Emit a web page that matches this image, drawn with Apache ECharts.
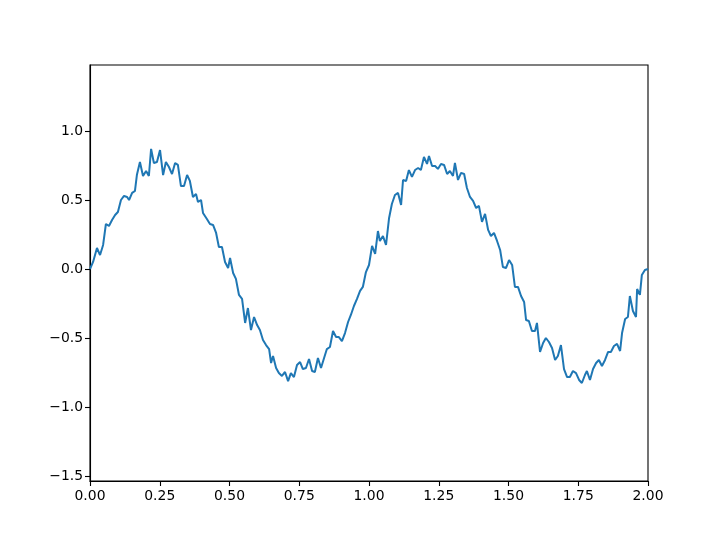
<!DOCTYPE html>
<html>
<head>
<meta charset="utf-8">
<script src="https://cdn.jsdelivr.net/npm/echarts@6/dist/echarts.min.js"></script>
<style>html,body{margin:0;padding:0;background:#fff}#c{width:720px;height:540px}</style>
</head>
<body>
<div id="c"></div>
<script>
const xValues = [0,0.011,0.025,0.036,0.047,0.057,0.068,0.079,0.090,0.100,0.111,0.122,0.133,0.140,0.151,0.161,0.168,0.179,0.190,0.201,0.211,0.219,0.229,0.240,0.251,0.262,0.272,0.283,0.294,0.305,0.315,0.326,0.337,0.348,0.358,0.369,0.380,0.387,0.398,0.405,0.419,0.430,0.441,0.452,0.462,0.473,0.484,0.495,0.502,0.513,0.523,0.534,0.545,0.556,0.566,0.577,0.588,0.599,0.609,0.620,0.631,0.642,0.649,0.656,0.667,0.677,0.688,0.699,0.710,0.720,0.731,0.742,0.753,0.763,0.774,0.785,0.796,0.806,0.817,0.828,0.839,0.849,0.860,0.871,0.882,0.892,0.903,0.914,0.925,0.935,0.946,0.957,0.968,0.978,0.989,1.000,1.011,1.022,1.032,1.039,1.050,1.061,1.072,1.082,1.093,1.104,1.115,1.122,1.133,1.143,1.154,1.165,1.176,1.186,1.197,1.208,1.215,1.226,1.237,1.247,1.258,1.269,1.280,1.290,1.301,1.308,1.319,1.330,1.341,1.351,1.362,1.373,1.384,1.394,1.405,1.416,1.427,1.437,1.448,1.459,1.470,1.480,1.491,1.502,1.513,1.523,1.534,1.545,1.556,1.563,1.573,1.584,1.595,1.602,1.613,1.624,1.634,1.645,1.656,1.667,1.677,1.688,1.699,1.710,1.720,1.731,1.742,1.753,1.763,1.774,1.781,1.792,1.803,1.814,1.824,1.835,1.846,1.857,1.867,1.878,1.889,1.900,1.907,1.918,1.928,1.935,1.946,1.957,1.961,1.971,1.978,1.989,2.000];
const yValues = [0,0.051,0.152,0.101,0.174,0.326,0.312,0.355,0.391,0.413,0.5,0.529,0.522,0.5,0.551,0.565,0.681,0.775,0.674,0.710,0.674,0.870,0.768,0.775,0.862,0.681,0.775,0.739,0.688,0.768,0.754,0.601,0.601,0.681,0.638,0.522,0.543,0.486,0.5,0.406,0.362,0.326,0.319,0.261,0.159,0.159,0.051,0.007,0.080,-0.029,-0.072,-0.188,-0.217,-0.391,-0.283,-0.442,-0.348,-0.406,-0.442,-0.514,-0.551,-0.580,-0.681,-0.630,-0.717,-0.754,-0.775,-0.746,-0.812,-0.754,-0.783,-0.696,-0.674,-0.725,-0.717,-0.652,-0.739,-0.746,-0.645,-0.717,-0.645,-0.580,-0.565,-0.449,-0.493,-0.493,-0.522,-0.464,-0.384,-0.333,-0.268,-0.217,-0.159,-0.130,-0.022,0.029,0.167,0.109,0.275,0.203,0.239,0.174,0.370,0.471,0.536,0.551,0.464,0.645,0.638,0.717,0.667,0.717,0.732,0.717,0.812,0.761,0.819,0.746,0.746,0.725,0.761,0.754,0.688,0.710,0.674,0.768,0.645,0.696,0.688,0.587,0.522,0.493,0.442,0.457,0.341,0.399,0.283,0.239,0.261,0.203,0.138,0.014,0.007,0.065,0.029,-0.130,-0.130,-0.196,-0.239,-0.370,-0.377,-0.449,-0.449,-0.391,-0.601,-0.536,-0.5,-0.529,-0.572,-0.659,-0.630,-0.551,-0.725,-0.783,-0.783,-0.739,-0.754,-0.804,-0.826,-0.768,-0.739,-0.804,-0.725,-0.681,-0.659,-0.703,-0.659,-0.601,-0.601,-0.558,-0.543,-0.594,-0.464,-0.362,-0.348,-0.196,-0.304,-0.348,-0.145,-0.188,-0.043,-0.007,0];
const yTicks = [-1.5, -1.0, -0.5, 0.0, 0.5, 1.0];
const xTicks = [0, 0.25, 0.5, 0.75, 1.0, 1.25, 1.5, 1.75, 2.0];

const chart = echarts.init(document.getElementById('c'), null, {renderer: 'canvas'});
const fmt = (v, d) => v.toFixed(d).replace('-', '\u2212');
const labelStyle = {color: '#000', fontFamily: 'DejaVu Sans', fontSize: 13.9};
chart.setOption({
  animation: false,
  backgroundColor: '#fff',
  grid: {left: 90, right: 72, top: 65, bottom: 59, show: true, borderColor: '#000', borderWidth: 1.1, backgroundColor: 'transparent'},
  xAxis: {
    type: 'value', min: 0, max: 2, interval: 0.25,
    axisLine: {show: true, onZero: false, lineStyle: {color: '#000', width: 1.1}},
    axisTick: {show: true, customValues: xTicks, length: 5, lineStyle: {color: '#000', width: 1.1}},
    axisLabel: {customValues: xTicks, formatter: v => fmt(v, 2), margin: 8, ...labelStyle},
    splitLine: {show: false}
  },
  yAxis: {
    type: 'value', min: -1.536, max: 1.478,
    axisLine: {show: true, onZero: false, lineStyle: {color: '#000', width: 1.1}},
    axisTick: {show: true, customValues: yTicks, length: 5, lineStyle: {color: '#000', width: 1.1}},
    axisLabel: {customValues: yTicks, formatter: v => fmt(v, 1), margin: 7, ...labelStyle},
    splitLine: {show: false}
  },
  series: [{
    type: 'line',
    data: xValues.map((x, i) => [x, yValues[i]]),
    showSymbol: false,
    symbol: 'none',
    lineStyle: {color: '#1f77b4', width: 2},
    clip: true
  }]
});
</script>
</body>
</html>
